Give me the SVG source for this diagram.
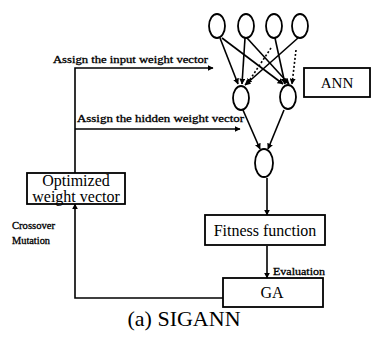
<svg xmlns="http://www.w3.org/2000/svg" width="372" height="338" viewBox="0 0 372 338">
<style>
.n{fill:none;stroke:#000;stroke-width:1.8}
.b{fill:#fff;stroke:#000;stroke-width:1.8}
.l{fill:none;stroke:#000;stroke-width:1.6}
.d{fill:none;stroke:#000;stroke-width:1.6;stroke-dasharray:2,2}
.t{font-family:"Liberation Serif",serif;fill:#000}
.s{font-family:"Liberation Serif",serif;font-size:10px;fill:#000;stroke:#000;stroke-width:0.3}
</style>
<defs>
<marker id="ah" viewBox="0 0 10 10" refX="9" refY="5" markerWidth="6" markerHeight="6" orient="auto" markerUnits="userSpaceOnUse">
<path d="M0,0 L10,5 L0,10 z" fill="#000"/>
</marker>
</defs>
<rect width="372" height="338" fill="#fff"/>
<g id="connectors">
<path class="l" d="M220,38 L238,84" marker-end="url(#ah)"/>
<path class="l" d="M222,38 L283,84" marker-end="url(#ah)"/>
<path class="l" d="M245,38 L242,84" marker-end="url(#ah)"/>
<path class="l" d="M247,38 L289,84" marker-end="url(#ah)"/>
<path class="d" d="M271,48 L247,84" marker-end="url(#ah)"/>
<path class="l" d="M275,38 L285,84" marker-end="url(#ah)"/>
<path class="l" d="M298,38 L245,85" marker-end="url(#ah)"/>
<path class="d" d="M296,50 L292,84" marker-end="url(#ah)"/>
<path class="l" d="M243,110 L260,149" marker-end="url(#ah)"/>
<path class="l" d="M284,110 L268,149" marker-end="url(#ah)"/>
<path class="l" d="M267,178 L267,215" marker-end="url(#ah)"/>
<path class="l" d="M267,246 L267,278" marker-end="url(#ah)"/>
<path class="l" d="M75,173 L75,68 L213,68" marker-end="url(#ah)"/>
<path class="l" d="M75,129 L240,129" marker-end="url(#ah)"/>
<path class="l" d="M223,298 L75,298 L75,204" marker-end="url(#ah)"/>
<text class="s" x="53" y="63" textLength="155" lengthAdjust="spacingAndGlyphs">Assign the input weight vector</text>
<text class="s" x="77" y="122" textLength="167" lengthAdjust="spacingAndGlyphs">Assign the hidden weight vector</text>
<text class="s" x="12" y="229" textLength="43" lengthAdjust="spacingAndGlyphs">Crossover</text>
<text class="s" x="12" y="244" textLength="38" lengthAdjust="spacingAndGlyphs">Mutation</text>
<text class="s" x="273" y="275" textLength="52" lengthAdjust="spacingAndGlyphs">Evaluation</text>
</g>
<g id="in1"><ellipse class="n" cx="217" cy="26" rx="8" ry="12"/></g>
<g id="in2"><ellipse class="n" cx="246" cy="26" rx="8" ry="12"/></g>
<g id="in3"><ellipse class="n" cx="274" cy="26" rx="8" ry="12"/></g>
<g id="in4"><ellipse class="n" cx="300" cy="26" rx="8" ry="12"/></g>
<g id="hid1"><ellipse class="n" cx="241" cy="98" rx="8" ry="12"/></g>
<g id="hid2"><ellipse class="n" cx="288" cy="97" rx="8" ry="12"/></g>
<g id="out"><ellipse class="n" cx="264" cy="163" rx="9" ry="14"/></g>
<g id="ann"><rect class="b" x="304" y="68" width="66" height="29"/><text class="t" x="337" y="88" font-size="15" text-anchor="middle">ANN</text></g>
<g id="optimized"><rect class="b" x="27" y="173" width="98" height="31"/><text class="t" x="76" y="186" font-size="16" text-anchor="middle">Optimized</text><text class="t" x="76" y="202" font-size="16" text-anchor="middle">weight vector</text></g>
<g id="fitness"><rect class="b" x="205" y="215" width="120" height="30"/><text class="t" x="265" y="236" font-size="16" text-anchor="middle">Fitness function</text></g>
<g id="ga"><rect class="b" x="223" y="278" width="100" height="29"/><text class="t" x="272" y="298" font-size="16" text-anchor="middle">GA</text></g>
<text class="t" x="184" y="326" font-size="22" text-anchor="middle">(a) SIGANN</text>
</svg>
